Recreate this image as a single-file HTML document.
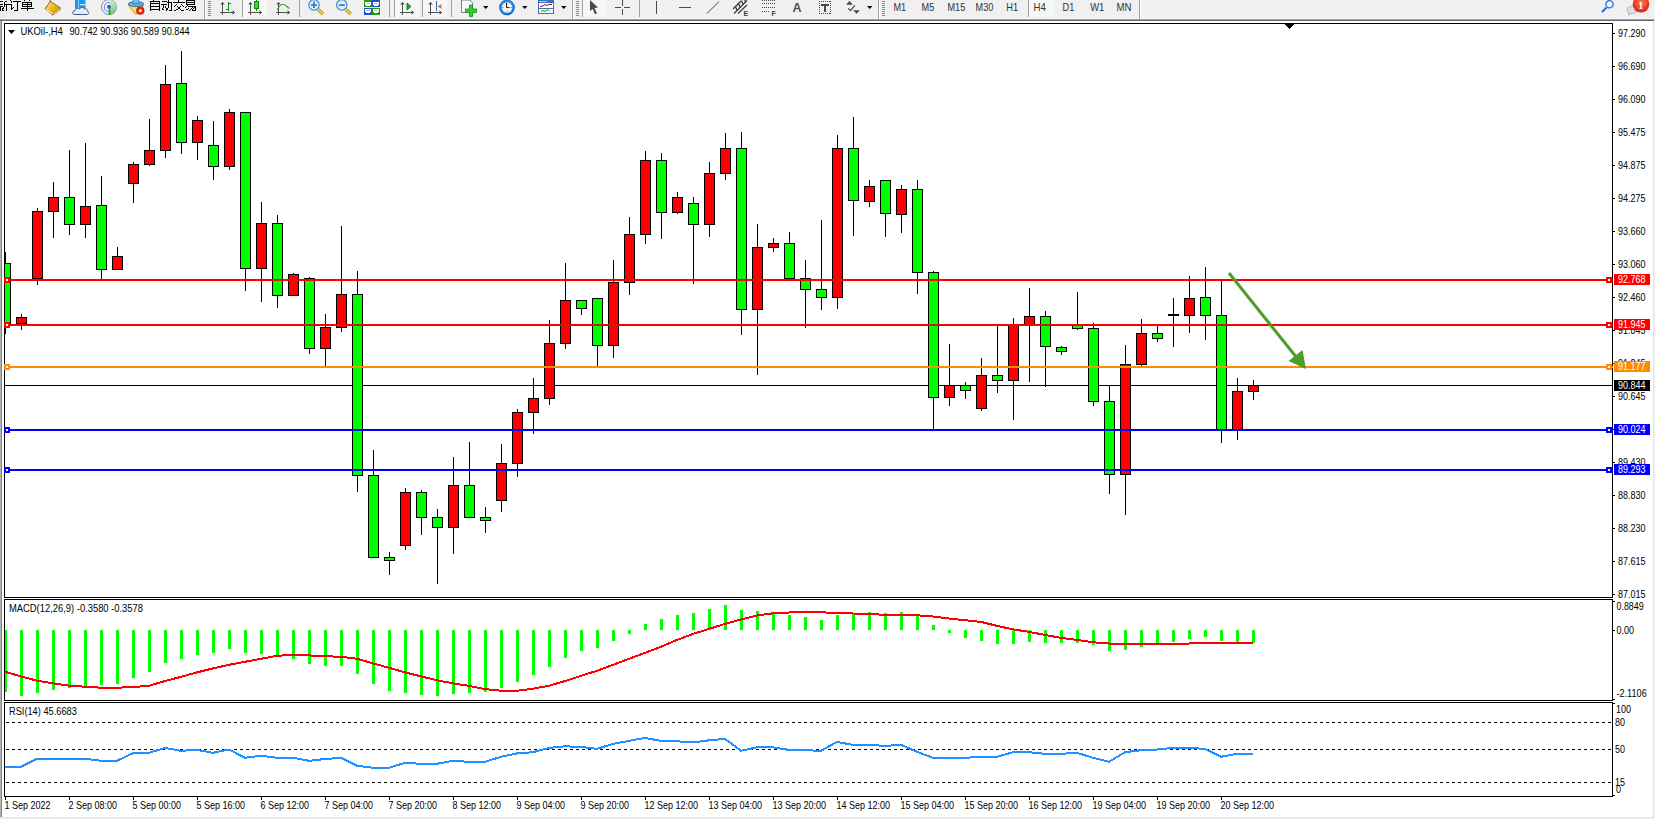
<!DOCTYPE html><html><head><meta charset="utf-8"><style>html,body{margin:0;padding:0;width:1655px;height:819px;overflow:hidden;background:#f0f0f0}</style></head><body><svg width="1655" height="819" viewBox="0 0 1655 819" style="display:block;font-family:'Liberation Sans', sans-serif"><rect x="0" y="0" width="1655" height="819" fill="#f0f0f0"/><rect x="0" y="21" width="1653" height="796" fill="#ffffff"/><rect x="0" y="21" width="1" height="796" fill="#b4b4b4"/><rect x="1" y="21" width="1" height="796" fill="#7f7f7f"/><rect x="1653" y="21" width="1" height="797" fill="#e3e3e3"/><rect x="0" y="817" width="1654" height="1" fill="#e3e3e3"/><rect x="0" y="18" width="1654" height="1" fill="#f7f7f7"/><rect x="0" y="19" width="1654" height="1" fill="#a0a0a0"/><rect x="0" y="20" width="1654" height="1" fill="#696969"/><defs><pattern id="chk" width="2" height="2" patternUnits="userSpaceOnUse"><rect width="2" height="2" fill="#f4f4f4"/><rect width="1" height="1" fill="#fafafa"/><rect x="1" y="1" width="1" height="1" fill="#fafafa"/></pattern><linearGradient id="gold" x1="0" y1="0" x2="1" y2="1"><stop offset="0" stop-color="#fff0a0"/><stop offset="0.5" stop-color="#e8b818"/><stop offset="1" stop-color="#c88a10"/></linearGradient><radialGradient id="rg" cx="0.5" cy="0.4" r="0.6"><stop offset="0" stop-color="#ff8060"/><stop offset="1" stop-color="#d81e08"/></radialGradient></defs><g shape-rendering="crispEdges"><rect x="243" y="0" width="24" height="17" fill="url(#chk)"/><rect x="395" y="0" width="24" height="17" fill="url(#chk)"/><rect x="423" y="0" width="24" height="17" fill="url(#chk)"/><rect x="583" y="0" width="24" height="17" fill="url(#chk)"/><rect x="1029" y="0" width="25" height="17" fill="url(#chk)"/><rect x="204" y="0" width="1" height="19" fill="#a0a0a0"/><rect x="205" y="0" width="1" height="19" fill="#ffffff"/><rect x="242" y="0" width="1" height="17" fill="#a0a0a0"/><rect x="299" y="0" width="1" height="17" fill="#a0a0a0"/><rect x="389" y="0" width="1" height="17" fill="#a0a0a0"/><rect x="394" y="0" width="1" height="17" fill="#a0a0a0"/><rect x="422" y="0" width="1" height="17" fill="#a0a0a0"/><rect x="451" y="0" width="1" height="17" fill="#a0a0a0"/><rect x="572" y="0" width="1" height="19" fill="#a0a0a0"/><rect x="573" y="0" width="1" height="19" fill="#ffffff"/><rect x="582" y="0" width="1" height="17" fill="#a0a0a0"/><rect x="639" y="0" width="1" height="17" fill="#a0a0a0"/><rect x="878" y="0" width="1" height="19" fill="#a0a0a0"/><rect x="879" y="0" width="1" height="19" fill="#ffffff"/><rect x="1028" y="0" width="1" height="17" fill="#a0a0a0"/><rect x="1139" y="0" width="1" height="19" fill="#a0a0a0"/><rect x="1140" y="0" width="1" height="19" fill="#ffffff"/><rect x="208" y="1" width="3" height="1" fill="#8a8a8a"/><rect x="208" y="3" width="3" height="1" fill="#8a8a8a"/><rect x="208" y="5" width="3" height="1" fill="#8a8a8a"/><rect x="208" y="7" width="3" height="1" fill="#8a8a8a"/><rect x="208" y="9" width="3" height="1" fill="#8a8a8a"/><rect x="208" y="11" width="3" height="1" fill="#8a8a8a"/><rect x="208" y="13" width="3" height="1" fill="#8a8a8a"/><rect x="208" y="15" width="3" height="1" fill="#8a8a8a"/><rect x="576" y="1" width="3" height="1" fill="#8a8a8a"/><rect x="576" y="3" width="3" height="1" fill="#8a8a8a"/><rect x="576" y="5" width="3" height="1" fill="#8a8a8a"/><rect x="576" y="7" width="3" height="1" fill="#8a8a8a"/><rect x="576" y="9" width="3" height="1" fill="#8a8a8a"/><rect x="576" y="11" width="3" height="1" fill="#8a8a8a"/><rect x="576" y="13" width="3" height="1" fill="#8a8a8a"/><rect x="576" y="15" width="3" height="1" fill="#8a8a8a"/><rect x="882" y="1" width="3" height="1" fill="#8a8a8a"/><rect x="882" y="3" width="3" height="1" fill="#8a8a8a"/><rect x="882" y="5" width="3" height="1" fill="#8a8a8a"/><rect x="882" y="7" width="3" height="1" fill="#8a8a8a"/><rect x="882" y="9" width="3" height="1" fill="#8a8a8a"/><rect x="882" y="11" width="3" height="1" fill="#8a8a8a"/><rect x="882" y="13" width="3" height="1" fill="#8a8a8a"/><rect x="882" y="15" width="3" height="1" fill="#8a8a8a"/><rect x="222" y="2" width="1" height="13" fill="#505050"/><rect x="220" y="12" width="15" height="1" fill="#505050"/><rect x="221" y="3" width="3" height="1" fill="#505050"/><rect x="220" y="4" width="5" height="1" fill="#505050" opacity="0.35"/><rect x="233" y="11" width="1" height="3" fill="#505050"/><rect x="232" y="10" width="1" height="5" fill="#505050" opacity="0.35"/><rect x="250" y="2" width="1" height="13" fill="#505050"/><rect x="248" y="12" width="14" height="1" fill="#505050"/><rect x="249" y="3" width="3" height="1" fill="#505050"/><rect x="248" y="4" width="5" height="1" fill="#505050" opacity="0.35"/><rect x="260" y="11" width="1" height="3" fill="#505050"/><rect x="259" y="10" width="1" height="5" fill="#505050" opacity="0.35"/><rect x="278" y="2" width="1" height="13" fill="#505050"/><rect x="276" y="12" width="14" height="1" fill="#505050"/><rect x="277" y="3" width="3" height="1" fill="#505050"/><rect x="276" y="4" width="5" height="1" fill="#505050" opacity="0.35"/><rect x="288" y="11" width="1" height="3" fill="#505050"/><rect x="287" y="10" width="1" height="5" fill="#505050" opacity="0.35"/><rect x="402" y="2" width="1" height="13" fill="#505050"/><rect x="400" y="12" width="14" height="1" fill="#505050"/><rect x="401" y="3" width="3" height="1" fill="#505050"/><rect x="400" y="4" width="5" height="1" fill="#505050" opacity="0.35"/><rect x="412" y="11" width="1" height="3" fill="#505050"/><rect x="411" y="10" width="1" height="5" fill="#505050" opacity="0.35"/><rect x="430" y="2" width="1" height="13" fill="#505050"/><rect x="428" y="12" width="14" height="1" fill="#505050"/><rect x="429" y="3" width="3" height="1" fill="#505050"/><rect x="428" y="4" width="5" height="1" fill="#505050" opacity="0.35"/><rect x="440" y="11" width="1" height="3" fill="#505050"/><rect x="439" y="10" width="1" height="5" fill="#505050" opacity="0.35"/><rect x="228" y="2" width="1" height="9" fill="#109010"/><rect x="229" y="3" width="2" height="1" fill="#109010"/><rect x="226" y="9" width="2" height="1" fill="#109010"/><rect x="256" y="0" width="1" height="11" fill="#108010"/><rect x="254" y="1" width="5" height="8" fill="#108010"/><rect x="255" y="2" width="3" height="6" fill="#30e030"/><polygon points="407,3 411,6.5 407,10" fill="#20b020" stroke="#108010" stroke-width="1" shape-rendering="auto"/><rect x="436" y="1" width="1" height="10" fill="#1f6fb0"/><polygon points="437.5,6.5 442,4 441,6.5 442,9" fill="#e06010" shape-rendering="auto"/></g><path d="M277,9.8 C279,6.5 281,4.2 283,4.3 C285,4.5 287,7 289.5,8.5" fill="none" stroke="#30a030" stroke-width="1.1"/><line x1="50.5" y1="0" x2="49.5" y2="3" stroke="#9a6010" stroke-width="1"/><polygon points="50.5,1.5 60.5,8 52.5,15 45,8.7" fill="url(#gold)" stroke="#9a6010" stroke-width="1"/><polygon points="53,13.3 60,8.3 60.8,9.6 53.2,15" fill="#f4e8b0" stroke="#9a6010" stroke-width="0.6"/><line x1="46.5" y1="9.5" x2="52.5" y2="13.8" stroke="#fff4c0" stroke-width="1.3"/><rect x="75" y="0" width="10.5" height="8.5" fill="#1898f0"/><rect x="78" y="0" width="1" height="8" fill="#90d0ff"/><rect x="80" y="4" width="5" height="1.2" fill="#e0f0ff"/><path d="M74.5,14.5 C72,14.5 72,10.8 75,10.8 C75,8.6 78,7.6 79.5,9 C80.5,7 84,7 84.5,9 C86.5,8.3 88.5,10 87.5,11.5 C89.5,12 89,14.5 87,14.5 Z" fill="#e8ecf4" stroke="#3c5a90" stroke-width="1"/><defs><linearGradient id="rgg" x1="0" y1="0" x2="0" y2="1"><stop offset="0" stop-color="#e8f4e8"/><stop offset="1" stop-color="#60b860"/></linearGradient></defs><path d="M109,7 L109,-1 A8,8 0 0 1 109,15 Z" fill="url(#rgg)" opacity="0.85"/><path d="M109,-0.5 A7.5,7.5 0 0 0 109,14.5" fill="none" stroke="#4a70d0" stroke-width="1" opacity="0.75"/><path d="M109,2.3 A4.7,4.7 0 0 0 109,11.7" fill="none" stroke="#4a70d0" stroke-width="1" opacity="0.85"/><path d="M109,-0.5 A7.5,7.5 0 0 1 109,14.5" fill="none" stroke="#5a9a70" stroke-width="1" opacity="0.6"/><path d="M109,2.3 A4.7,4.7 0 0 1 109,11.7" fill="none" stroke="#80b890" stroke-width="1" opacity="0.6"/><circle cx="109" cy="6.8" r="1.9" fill="#2050c0"/><line x1="109.5" y1="7" x2="109.5" y2="15" stroke="#20a020" stroke-width="1.6"/><polygon points="128.5,5.5 143.5,5.5 136,14.5" fill="#f8e060" stroke="#c8a020" stroke-width="1"/><ellipse cx="136" cy="4" rx="7.6" ry="2.4" fill="#68b4e6" stroke="#2070a8" stroke-width="1"/><path d="M132.5,3.5 Q133.5,-2 136,-2 Q138.5,-2 139.5,3.5 Z" fill="#78c0f0" stroke="#2878b0" stroke-width="0.8"/><circle cx="140.3" cy="10.7" r="4.1" fill="#c81808"/><circle cx="140.3" cy="10.7" r="3.2" fill="#e82a10"/><rect x="139.1" y="9.5" width="2.5" height="2.5" fill="#fff"/><line x1="318" y1="9.5" x2="323" y2="14" stroke="#a07810" stroke-width="3.2"/><line x1="318" y1="9.5" x2="323" y2="14" stroke="#f0d848" stroke-width="1.8"/><circle cx="314" cy="5" r="5.2" fill="#daf2fc" stroke="#3a78c8" stroke-width="1.1"/><rect x="311" y="4.2" width="6" height="1.8" fill="#3a88b0"/><rect x="313.1" y="1.5" width="1.8" height="6.5" fill="#3a88b0"/><line x1="345.8" y1="9.5" x2="350.8" y2="14" stroke="#a07810" stroke-width="3.2"/><line x1="345.8" y1="9.5" x2="350.8" y2="14" stroke="#f0d848" stroke-width="1.8"/><circle cx="341.8" cy="5" r="5.2" fill="#daf2fc" stroke="#3a78c8" stroke-width="1.1"/><rect x="338.8" y="4.2" width="6" height="1.8" fill="#3a88b0"/><g shape-rendering="crispEdges"><rect x="364" y="0" width="8" height="7.5" fill="#2a9a18"/><rect x="365" y="2" width="6" height="4" fill="#fff"/><rect x="366" y="3" width="4" height="1" fill="#a8e0a0"/><rect x="365" y="5" width="1" height="1" fill="#2a9a18"/><rect x="370" y="5" width="1" height="1" fill="#2a9a18"/><rect x="372" y="0" width="8" height="7.5" fill="#2050d0"/><rect x="373" y="2" width="6" height="4" fill="#fff"/><rect x="374" y="3" width="4" height="1" fill="#a0b8f0"/><rect x="373" y="5" width="1" height="1" fill="#2050d0"/><rect x="378" y="5" width="1" height="1" fill="#2050d0"/><rect x="364" y="7" width="8" height="7.5" fill="#2050d0"/><rect x="365" y="9" width="6" height="4" fill="#fff"/><rect x="366" y="10" width="4" height="1" fill="#a0b8f0"/><rect x="365" y="12" width="1" height="1" fill="#2050d0"/><rect x="370" y="12" width="1" height="1" fill="#2050d0"/><rect x="372" y="7" width="8" height="7.5" fill="#2a9a18"/><rect x="373" y="9" width="6" height="4" fill="#fff"/><rect x="374" y="10" width="4" height="1" fill="#a8e0a0"/><rect x="373" y="12" width="1" height="1" fill="#2a9a18"/><rect x="378" y="12" width="1" height="1" fill="#2a9a18"/><rect x="371.5" y="0" width="0.5" height="15" fill="#e0e0e0"/><rect x="364" y="7" width="16" height="0.5" fill="#e0e0e0"/></g><path d="M461.5,0 L470,0 L472.5,2.5 L472.5,12.5 L461.5,12.5 Z" fill="#fafafa" stroke="#808080" stroke-width="1"/><path d="M469.5,5 h3 v4 h4 v3.5 h-4 v4 h-3 v-4 h-4 v-3.5 h4 Z" fill="#30d030" stroke="#109010" stroke-width="0.8"/><polygon points="483,6 488.5,6 485.75,9" fill="#000"/><polygon points="522,6 527.5,6 524.75,9" fill="#000"/><polygon points="561,6 566.5,6 563.75,9" fill="#000"/><polygon points="867,6 872.5,6 869.75,9" fill="#000"/><circle cx="507" cy="7.5" r="7.8" fill="#0a58b8"/><circle cx="507" cy="7" r="7" fill="#2a88e8"/><circle cx="507" cy="7.5" r="5.2" fill="#f4f4f4"/><g fill="#707070"><rect x="506.5" y="2.6" width="1" height="1"/><rect x="506.5" y="11.4" width="1" height="1"/><rect x="502.3" y="7" width="1" height="1"/><rect x="510.8" y="7" width="1" height="1"/></g><path d="M506.5,3 L506.5,7.5 L509.5,7.5" fill="none" stroke="#202020" stroke-width="1"/><g shape-rendering="crispEdges"><rect x="538" y="0" width="16" height="14" fill="#3a70c0"/><rect x="539" y="3" width="14" height="5" fill="#fff"/><rect x="539" y="9" width="14" height="4" fill="#fff"/><rect x="539" y="1" width="8" height="1" fill="#a8c8f0"/></g><polyline points="540,6.5 543,6 545,4.5 547,5.5 549,4.5 552,4.5" fill="none" stroke="#a01818" stroke-width="1"/><polyline points="541,11.5 543,10.5 545,11.5 548,9.5 550,11.5" fill="none" stroke="#10a010" stroke-width="1"/><polygon points="590,0 598,7.5 594.5,8 597,13.5 595,14.3 592.7,9 590,11" fill="#4a4a4a"/><g shape-rendering="crispEdges" fill="#4a4a4a"><rect x="622" y="0" width="1" height="6"/><rect x="622" y="9" width="1" height="6"/><rect x="615" y="7" width="6" height="1"/><rect x="624" y="7" width="6" height="1"/><rect x="656" y="1" width="1" height="13"/><rect x="679" y="7" width="12" height="1"/></g><line x1="707" y1="13.5" x2="719" y2="1.5" stroke="#4a4a4a" stroke-width="1"/><g stroke="#3a3a3a" stroke-width="1.2" fill="none"><line x1="733" y1="9" x2="741" y2="1"/><line x1="734" y1="13.5" x2="747" y2="0.5"/><line x1="738" y1="13.5" x2="747" y2="5"/><path d="M735.5,6.5 l1.5,4 M738.5,3.5 l1.5,4 M741.5,0.5 l1.5,4 M744.5,-1 l1,3"/></g><text x="743.5" y="15.7" font-size="7" font-weight="bold" fill="#404040">E</text><g shape-rendering="crispEdges" fill="#4a4a4a"><rect x="762" y="0" width="1" height="1"/><rect x="764" y="0" width="1" height="1"/><rect x="766" y="0" width="1" height="1"/><rect x="768" y="0" width="1" height="1"/><rect x="770" y="0" width="1" height="1"/><rect x="772" y="0" width="1" height="1"/><rect x="774" y="0" width="1" height="1"/><rect x="762" y="3" width="1" height="1"/><rect x="764" y="3" width="1" height="1"/><rect x="766" y="3" width="1" height="1"/><rect x="768" y="3" width="1" height="1"/><rect x="770" y="3" width="1" height="1"/><rect x="772" y="3" width="1" height="1"/><rect x="774" y="3" width="1" height="1"/><rect x="762" y="7" width="1" height="1"/><rect x="764" y="7" width="1" height="1"/><rect x="766" y="7" width="1" height="1"/><rect x="768" y="7" width="1" height="1"/><rect x="770" y="7" width="1" height="1"/><rect x="772" y="7" width="1" height="1"/><rect x="774" y="7" width="1" height="1"/><rect x="762" y="11" width="1" height="1"/><rect x="764" y="11" width="1" height="1"/><rect x="766" y="11" width="1" height="1"/><rect x="768" y="11" width="1" height="1"/></g><text x="771.5" y="15.7" font-size="7" font-weight="bold" fill="#404040">F</text><text x="792.6" y="12" font-size="12.5" font-weight="bold" fill="#505050">A</text><g shape-rendering="crispEdges" fill="#4a4a4a"><rect x="819" y="1" width="1" height="1"/><rect x="819" y="13" width="1" height="1"/><rect x="821" y="1" width="1" height="1"/><rect x="821" y="13" width="1" height="1"/><rect x="823" y="1" width="1" height="1"/><rect x="823" y="13" width="1" height="1"/><rect x="825" y="1" width="1" height="1"/><rect x="825" y="13" width="1" height="1"/><rect x="827" y="1" width="1" height="1"/><rect x="827" y="13" width="1" height="1"/><rect x="829" y="1" width="1" height="1"/><rect x="829" y="13" width="1" height="1"/><rect x="819" y="1" width="1" height="1"/><rect x="830" y="1" width="1" height="1"/><rect x="819" y="3" width="1" height="1"/><rect x="830" y="3" width="1" height="1"/><rect x="819" y="5" width="1" height="1"/><rect x="830" y="5" width="1" height="1"/><rect x="819" y="7" width="1" height="1"/><rect x="830" y="7" width="1" height="1"/><rect x="819" y="9" width="1" height="1"/><rect x="830" y="9" width="1" height="1"/><rect x="819" y="11" width="1" height="1"/><rect x="830" y="11" width="1" height="1"/><rect x="819" y="13" width="1" height="1"/><rect x="830" y="13" width="1" height="1"/><rect x="821" y="4" width="8" height="1.6"/><rect x="824.2" y="4" width="1.6" height="8"/></g><polygon points="849.4,1 853,4.7 846,4.7" fill="#4a4a4a"/><polygon points="853.2,10.3 860,10.3 856.5,13.8" fill="#4a4a4a"/><polyline points="848.3,8.3 850.5,10.5 854.9,5.4" fill="none" stroke="#4a4a4a" stroke-width="1.2"/><circle cx="1609.5" cy="4.3" r="3.6" fill="#f4f8ff" stroke="#2a68d8" stroke-width="1.3"/><line x1="1602" y1="12" x2="1606.5" y2="7.5" stroke="#2a68d8" stroke-width="2"/><path d="M1627,10 C1627,5 1637,5 1637,10 C1637,13 1632,14 1630,13.5 L1629,15.5 L1628.8,13 C1627.5,12.5 1627,11.5 1627,10 Z" fill="#dcdde6" stroke="#a8a8a8" stroke-width="0.8"/><circle cx="1641" cy="4.3" r="8.3" fill="url(#rg)"/><text x="1638.2" y="8.8" font-size="10" font-weight="bold" font-family="Liberation Serif, serif" fill="#fff">1</text><g shape-rendering="crispEdges" fill="#000"><rect x="0" y="1" width="3" height="1"/><rect x="0" y="4" width="3" height="1"/><rect x="0" y="6" width="3" height="1"/><rect x="0" y="6" width="1" height="5"/><rect x="2" y="8" width="1" height="1"/><rect x="2" y="9" width="1" height="1"/><rect x="3" y="10" width="1" height="1"/><rect x="6" y="1" width="1" height="1"/><rect x="5" y="1" width="1" height="1"/><rect x="4" y="2" width="1" height="1"/><rect x="4" y="2" width="1" height="2"/><rect x="4" y="4" width="6" height="1"/><rect x="6" y="4" width="1" height="7"/><rect x="4" y="5" width="1" height="1"/><rect x="4" y="6" width="1" height="1"/><rect x="3" y="7" width="1" height="1"/><rect x="3" y="8" width="1" height="1"/><rect x="2" y="10" width="1" height="1"/><rect x="10" y="0" width="1" height="1"/><rect x="11" y="1" width="1" height="1"/><rect x="11" y="2" width="1" height="1"/><rect x="10" y="4" width="2" height="1"/><rect x="11" y="4" width="1" height="6"/><rect x="12" y="8" width="1" height="1"/><rect x="13" y="7" width="1" height="1"/><rect x="13" y="1" width="8" height="1"/><rect x="17" y="1" width="1" height="10"/><rect x="14" y="10" width="4" height="1"/><rect x="24" y="0" width="1" height="1"/><rect x="29" y="0" width="1" height="1"/><rect x="22" y="2" width="10" height="1"/><rect x="22" y="4" width="10" height="1"/><rect x="22" y="6" width="10" height="1"/><rect x="22" y="2" width="1" height="5"/><rect x="31" y="2" width="1" height="5"/><rect x="27" y="2" width="1" height="9"/><rect x="21" y="8" width="13" height="1"/><rect x="153" y="0" width="1" height="1"/><rect x="150" y="1" width="10" height="1"/><rect x="150" y="1" width="1" height="10"/><rect x="159" y="1" width="1" height="10"/><rect x="150" y="3" width="10" height="1"/><rect x="150" y="6" width="10" height="1"/><rect x="150" y="9" width="10" height="1"/><rect x="162" y="1" width="5" height="1"/><rect x="161" y="4" width="6" height="1"/><rect x="163" y="5" width="1" height="1"/><rect x="163" y="6" width="1" height="1"/><rect x="163" y="7" width="1" height="1"/><rect x="162" y="8" width="1" height="1"/><rect x="162" y="9" width="2" height="1"/><rect x="165" y="6" width="1" height="1"/><rect x="165" y="7" width="1" height="1"/><rect x="166" y="8" width="1" height="1"/><rect x="166" y="9" width="1" height="1"/><rect x="166" y="10" width="1" height="1"/><rect x="167" y="2" width="5" height="1"/><rect x="168" y="0" width="1" height="8"/><rect x="167" y="8" width="1" height="1"/><rect x="167" y="9" width="1" height="1"/><rect x="166" y="10" width="1" height="1"/><rect x="171" y="2" width="1" height="8"/><rect x="169" y="10" width="3" height="1"/><rect x="178" y="0" width="1" height="2"/><rect x="173" y="2" width="12" height="1"/><rect x="176" y="4" width="1" height="1"/><rect x="175" y="5" width="1" height="1"/><rect x="174" y="6" width="1" height="1"/><rect x="181" y="4" width="1" height="1"/><rect x="182" y="5" width="1" height="1"/><rect x="183" y="6" width="1" height="1"/><rect x="177" y="6" width="1" height="1"/><rect x="178" y="7" width="1" height="1"/><rect x="179" y="8" width="1" height="1"/><rect x="180" y="9" width="1" height="1"/><rect x="181" y="10" width="1" height="1"/><rect x="182" y="10" width="1" height="1"/><rect x="183" y="10" width="1" height="1"/><rect x="180" y="6" width="1" height="1"/><rect x="179" y="7" width="1" height="1"/><rect x="178" y="8" width="1" height="1"/><rect x="177" y="9" width="1" height="1"/><rect x="176" y="9" width="1" height="1"/><rect x="175" y="10" width="1" height="1"/><rect x="174" y="10" width="1" height="1"/><rect x="186" y="0" width="9" height="1"/><rect x="186" y="0" width="1" height="5"/><rect x="194" y="0" width="1" height="5"/><rect x="187" y="2" width="7" height="1"/><rect x="186" y="4" width="9" height="1"/><rect x="187" y="5" width="1" height="1"/><rect x="186" y="6" width="1" height="1"/><rect x="185" y="7" width="1" height="1"/><rect x="188" y="6" width="8" height="1"/><rect x="195" y="6" width="1" height="5"/><rect x="188" y="8" width="1" height="1"/><rect x="187" y="9" width="1" height="1"/><rect x="186" y="9" width="1" height="1"/><rect x="192" y="7" width="1" height="1"/><rect x="191" y="8" width="1" height="1"/><rect x="190" y="9" width="1" height="1"/><rect x="189" y="10" width="1" height="1"/><rect x="194" y="7" width="1" height="1"/><rect x="193" y="8" width="1" height="1"/><rect x="192" y="9" width="1" height="1"/><rect x="192" y="10" width="3" height="1"/></g><g shape-rendering="crispEdges"><rect x="4" y="23" width="1609" height="1" fill="#000"/><rect x="4" y="597" width="1609" height="1" fill="#000"/><rect x="4" y="23" width="1" height="575" fill="#000"/><rect x="1612" y="23" width="1" height="575" fill="#000"/><rect x="4" y="599" width="1609" height="1" fill="#000"/><rect x="4" y="700" width="1609" height="1" fill="#000"/><rect x="4" y="599" width="1" height="102" fill="#000"/><rect x="1612" y="599" width="1" height="102" fill="#000"/><rect x="4" y="702" width="1609" height="1" fill="#000"/><rect x="4" y="796" width="1609" height="1" fill="#000"/><rect x="4" y="702" width="1" height="95" fill="#000"/><rect x="1612" y="702" width="1" height="95" fill="#000"/><rect x="1613" y="33" width="2" height="1" fill="#000"/><text x="1618" y="37" font-size="10.2" fill="#000" textLength="27.5" lengthAdjust="spacingAndGlyphs">97.290</text><rect x="1613" y="66" width="2" height="1" fill="#000"/><text x="1618" y="70" font-size="10.2" fill="#000" textLength="27.5" lengthAdjust="spacingAndGlyphs">96.690</text><rect x="1613" y="99" width="2" height="1" fill="#000"/><text x="1618" y="103" font-size="10.2" fill="#000" textLength="27.5" lengthAdjust="spacingAndGlyphs">96.090</text><rect x="1613" y="132" width="2" height="1" fill="#000"/><text x="1618" y="136" font-size="10.2" fill="#000" textLength="27.5" lengthAdjust="spacingAndGlyphs">95.475</text><rect x="1613" y="165" width="2" height="1" fill="#000"/><text x="1618" y="169" font-size="10.2" fill="#000" textLength="27.5" lengthAdjust="spacingAndGlyphs">94.875</text><rect x="1613" y="198" width="2" height="1" fill="#000"/><text x="1618" y="202" font-size="10.2" fill="#000" textLength="27.5" lengthAdjust="spacingAndGlyphs">94.275</text><rect x="1613" y="231" width="2" height="1" fill="#000"/><text x="1618" y="235" font-size="10.2" fill="#000" textLength="27.5" lengthAdjust="spacingAndGlyphs">93.660</text><rect x="1613" y="264" width="2" height="1" fill="#000"/><text x="1618" y="268" font-size="10.2" fill="#000" textLength="27.5" lengthAdjust="spacingAndGlyphs">93.060</text><rect x="1613" y="297" width="2" height="1" fill="#000"/><text x="1618" y="301" font-size="10.2" fill="#000" textLength="27.5" lengthAdjust="spacingAndGlyphs">92.460</text><rect x="1613" y="330" width="2" height="1" fill="#000"/><text x="1618" y="334" font-size="10.2" fill="#000" textLength="27.5" lengthAdjust="spacingAndGlyphs">91.845</text><rect x="1613" y="363" width="2" height="1" fill="#000"/><text x="1618" y="367" font-size="10.2" fill="#000" textLength="27.5" lengthAdjust="spacingAndGlyphs">91.245</text><rect x="1613" y="396" width="2" height="1" fill="#000"/><text x="1618" y="400" font-size="10.2" fill="#000" textLength="27.5" lengthAdjust="spacingAndGlyphs">90.645</text><rect x="1613" y="429" width="2" height="1" fill="#000"/><text x="1618" y="433" font-size="10.2" fill="#000" textLength="27.5" lengthAdjust="spacingAndGlyphs">90.030</text><rect x="1613" y="462" width="2" height="1" fill="#000"/><text x="1618" y="466" font-size="10.2" fill="#000" textLength="27.5" lengthAdjust="spacingAndGlyphs">89.430</text><rect x="1613" y="495" width="2" height="1" fill="#000"/><text x="1618" y="499" font-size="10.2" fill="#000" textLength="27.5" lengthAdjust="spacingAndGlyphs">88.830</text><rect x="1613" y="528" width="2" height="1" fill="#000"/><text x="1618" y="532" font-size="10.2" fill="#000" textLength="27.5" lengthAdjust="spacingAndGlyphs">88.230</text><rect x="1613" y="561" width="2" height="1" fill="#000"/><text x="1618" y="565" font-size="10.2" fill="#000" textLength="27.5" lengthAdjust="spacingAndGlyphs">87.615</text><rect x="1613" y="594" width="2" height="1" fill="#000"/><text x="1618" y="598" font-size="10.2" fill="#000" textLength="27.5" lengthAdjust="spacingAndGlyphs">87.015</text></g><clipPath id="cm"><rect x="5" y="24" width="1607" height="573"/></clipPath><clipPath id="cd"><rect x="5" y="600" width="1607" height="100"/></clipPath><clipPath id="cr"><rect x="5" y="703" width="1607" height="93"/></clipPath><g clip-path="url(#cm)" shape-rendering="crispEdges"><rect x="5" y="385" width="1607" height="1" fill="#000"/><rect x="5" y="252" width="1" height="82" fill="#000"/><rect x="0" y="263" width="11" height="62" fill="#000"/><rect x="1" y="264" width="9" height="60" fill="#00ff00"/><rect x="21" y="314" width="1" height="16" fill="#000"/><rect x="16" y="317" width="11" height="7" fill="#000"/><rect x="17" y="318" width="9" height="5" fill="#ff0000"/><rect x="37" y="208" width="1" height="77" fill="#000"/><rect x="32" y="211" width="11" height="68" fill="#000"/><rect x="33" y="212" width="9" height="66" fill="#ff0000"/><rect x="53" y="182" width="1" height="56" fill="#000"/><rect x="48" y="197" width="11" height="15" fill="#000"/><rect x="49" y="198" width="9" height="13" fill="#ff0000"/><rect x="69" y="150" width="1" height="85" fill="#000"/><rect x="64" y="197" width="11" height="28" fill="#000"/><rect x="65" y="198" width="9" height="26" fill="#00ff00"/><rect x="85" y="143" width="1" height="95" fill="#000"/><rect x="80" y="206" width="11" height="19" fill="#000"/><rect x="81" y="207" width="9" height="17" fill="#ff0000"/><rect x="101" y="176" width="1" height="103" fill="#000"/><rect x="96" y="205" width="11" height="65" fill="#000"/><rect x="97" y="206" width="9" height="63" fill="#00ff00"/><rect x="117" y="247" width="1" height="23" fill="#000"/><rect x="112" y="256" width="11" height="14" fill="#000"/><rect x="113" y="257" width="9" height="12" fill="#ff0000"/><rect x="133" y="162" width="1" height="41" fill="#000"/><rect x="128" y="164" width="11" height="20" fill="#000"/><rect x="129" y="165" width="9" height="18" fill="#ff0000"/><rect x="149" y="119" width="1" height="47" fill="#000"/><rect x="144" y="150" width="11" height="15" fill="#000"/><rect x="145" y="151" width="9" height="13" fill="#ff0000"/><rect x="165" y="65" width="1" height="93" fill="#000"/><rect x="160" y="84" width="11" height="67" fill="#000"/><rect x="161" y="85" width="9" height="65" fill="#ff0000"/><rect x="181" y="51" width="1" height="103" fill="#000"/><rect x="176" y="83" width="11" height="60" fill="#000"/><rect x="177" y="84" width="9" height="58" fill="#00ff00"/><rect x="197" y="116" width="1" height="44" fill="#000"/><rect x="192" y="120" width="11" height="23" fill="#000"/><rect x="193" y="121" width="9" height="21" fill="#ff0000"/><rect x="213" y="121" width="1" height="59" fill="#000"/><rect x="208" y="145" width="11" height="22" fill="#000"/><rect x="209" y="146" width="9" height="20" fill="#00ff00"/><rect x="229" y="109" width="1" height="61" fill="#000"/><rect x="224" y="112" width="11" height="55" fill="#000"/><rect x="225" y="113" width="9" height="53" fill="#ff0000"/><rect x="245" y="112" width="1" height="179" fill="#000"/><rect x="240" y="112" width="11" height="157" fill="#000"/><rect x="241" y="113" width="9" height="155" fill="#00ff00"/><rect x="261" y="202" width="1" height="100" fill="#000"/><rect x="256" y="223" width="11" height="46" fill="#000"/><rect x="257" y="224" width="9" height="44" fill="#ff0000"/><rect x="277" y="215" width="1" height="93" fill="#000"/><rect x="272" y="223" width="11" height="73" fill="#000"/><rect x="273" y="224" width="9" height="71" fill="#00ff00"/><rect x="293" y="273" width="1" height="23" fill="#000"/><rect x="288" y="274" width="11" height="22" fill="#000"/><rect x="289" y="275" width="9" height="20" fill="#ff0000"/><rect x="309" y="277" width="1" height="77" fill="#000"/><rect x="304" y="278" width="11" height="71" fill="#000"/><rect x="305" y="279" width="9" height="69" fill="#00ff00"/><rect x="325" y="314" width="1" height="52" fill="#000"/><rect x="320" y="327" width="11" height="22" fill="#000"/><rect x="321" y="328" width="9" height="20" fill="#ff0000"/><rect x="341" y="226" width="1" height="106" fill="#000"/><rect x="336" y="294" width="11" height="34" fill="#000"/><rect x="337" y="295" width="9" height="32" fill="#ff0000"/><rect x="357" y="271" width="1" height="221" fill="#000"/><rect x="352" y="294" width="11" height="182" fill="#000"/><rect x="353" y="295" width="9" height="180" fill="#00ff00"/><rect x="373" y="450" width="1" height="108" fill="#000"/><rect x="368" y="475" width="11" height="83" fill="#000"/><rect x="369" y="476" width="9" height="81" fill="#00ff00"/><rect x="389" y="552" width="1" height="23" fill="#000"/><rect x="384" y="557" width="11" height="4" fill="#000"/><rect x="385" y="558" width="9" height="2" fill="#00ff00"/><rect x="405" y="488" width="1" height="62" fill="#000"/><rect x="400" y="492" width="11" height="54" fill="#000"/><rect x="401" y="493" width="9" height="52" fill="#ff0000"/><rect x="421" y="490" width="1" height="45" fill="#000"/><rect x="416" y="492" width="11" height="26" fill="#000"/><rect x="417" y="493" width="9" height="24" fill="#00ff00"/><rect x="437" y="509" width="1" height="75" fill="#000"/><rect x="432" y="517" width="11" height="11" fill="#000"/><rect x="433" y="518" width="9" height="9" fill="#00ff00"/><rect x="453" y="457" width="1" height="97" fill="#000"/><rect x="448" y="485" width="11" height="43" fill="#000"/><rect x="449" y="486" width="9" height="41" fill="#ff0000"/><rect x="469" y="442" width="1" height="76" fill="#000"/><rect x="464" y="485" width="11" height="33" fill="#000"/><rect x="465" y="486" width="9" height="31" fill="#00ff00"/><rect x="485" y="507" width="1" height="26" fill="#000"/><rect x="480" y="517" width="11" height="4" fill="#000"/><rect x="481" y="518" width="9" height="2" fill="#00ff00"/><rect x="501" y="444" width="1" height="68" fill="#000"/><rect x="496" y="463" width="11" height="38" fill="#000"/><rect x="497" y="464" width="9" height="36" fill="#ff0000"/><rect x="517" y="409" width="1" height="68" fill="#000"/><rect x="512" y="412" width="11" height="52" fill="#000"/><rect x="513" y="413" width="9" height="50" fill="#ff0000"/><rect x="533" y="378" width="1" height="56" fill="#000"/><rect x="528" y="398" width="11" height="15" fill="#000"/><rect x="529" y="399" width="9" height="13" fill="#ff0000"/><rect x="549" y="320" width="1" height="85" fill="#000"/><rect x="544" y="343" width="11" height="56" fill="#000"/><rect x="545" y="344" width="9" height="54" fill="#ff0000"/><rect x="565" y="263" width="1" height="86" fill="#000"/><rect x="560" y="300" width="11" height="44" fill="#000"/><rect x="561" y="301" width="9" height="42" fill="#ff0000"/><rect x="581" y="300" width="1" height="15" fill="#000"/><rect x="576" y="300" width="11" height="9" fill="#000"/><rect x="577" y="301" width="9" height="7" fill="#00ff00"/><rect x="597" y="298" width="1" height="68" fill="#000"/><rect x="592" y="298" width="11" height="48" fill="#000"/><rect x="593" y="299" width="9" height="46" fill="#00ff00"/><rect x="613" y="260" width="1" height="98" fill="#000"/><rect x="608" y="282" width="11" height="64" fill="#000"/><rect x="609" y="283" width="9" height="62" fill="#ff0000"/><rect x="629" y="217" width="1" height="78" fill="#000"/><rect x="624" y="234" width="11" height="49" fill="#000"/><rect x="625" y="235" width="9" height="47" fill="#ff0000"/><rect x="645" y="151" width="1" height="93" fill="#000"/><rect x="640" y="160" width="11" height="75" fill="#000"/><rect x="641" y="161" width="9" height="73" fill="#ff0000"/><rect x="661" y="153" width="1" height="86" fill="#000"/><rect x="656" y="160" width="11" height="53" fill="#000"/><rect x="657" y="161" width="9" height="51" fill="#00ff00"/><rect x="677" y="192" width="1" height="22" fill="#000"/><rect x="672" y="197" width="11" height="16" fill="#000"/><rect x="673" y="198" width="9" height="14" fill="#ff0000"/><rect x="693" y="197" width="1" height="87" fill="#000"/><rect x="688" y="203" width="11" height="22" fill="#000"/><rect x="689" y="204" width="9" height="20" fill="#00ff00"/><rect x="709" y="162" width="1" height="75" fill="#000"/><rect x="704" y="173" width="11" height="52" fill="#000"/><rect x="705" y="174" width="9" height="50" fill="#ff0000"/><rect x="725" y="133" width="1" height="47" fill="#000"/><rect x="720" y="148" width="11" height="26" fill="#000"/><rect x="721" y="149" width="9" height="24" fill="#ff0000"/><rect x="741" y="132" width="1" height="203" fill="#000"/><rect x="736" y="148" width="11" height="162" fill="#000"/><rect x="737" y="149" width="9" height="160" fill="#00ff00"/><rect x="757" y="224" width="1" height="151" fill="#000"/><rect x="752" y="247" width="11" height="63" fill="#000"/><rect x="753" y="248" width="9" height="61" fill="#ff0000"/><rect x="773" y="238" width="1" height="14" fill="#000"/><rect x="768" y="243" width="11" height="5" fill="#000"/><rect x="769" y="244" width="9" height="3" fill="#ff0000"/><rect x="789" y="232" width="1" height="47" fill="#000"/><rect x="784" y="243" width="11" height="36" fill="#000"/><rect x="785" y="244" width="9" height="34" fill="#00ff00"/><rect x="805" y="260" width="1" height="68" fill="#000"/><rect x="800" y="278" width="11" height="12" fill="#000"/><rect x="801" y="279" width="9" height="10" fill="#00ff00"/><rect x="821" y="220" width="1" height="90" fill="#000"/><rect x="816" y="289" width="11" height="9" fill="#000"/><rect x="817" y="290" width="9" height="7" fill="#00ff00"/><rect x="837" y="135" width="1" height="174" fill="#000"/><rect x="832" y="148" width="11" height="150" fill="#000"/><rect x="833" y="149" width="9" height="148" fill="#ff0000"/><rect x="853" y="117" width="1" height="119" fill="#000"/><rect x="848" y="148" width="11" height="53" fill="#000"/><rect x="849" y="149" width="9" height="51" fill="#00ff00"/><rect x="869" y="180" width="1" height="27" fill="#000"/><rect x="864" y="186" width="11" height="16" fill="#000"/><rect x="865" y="187" width="9" height="14" fill="#ff0000"/><rect x="885" y="180" width="1" height="57" fill="#000"/><rect x="880" y="180" width="11" height="34" fill="#000"/><rect x="881" y="181" width="9" height="32" fill="#00ff00"/><rect x="901" y="185" width="1" height="48" fill="#000"/><rect x="896" y="189" width="11" height="26" fill="#000"/><rect x="897" y="190" width="9" height="24" fill="#ff0000"/><rect x="917" y="180" width="1" height="114" fill="#000"/><rect x="912" y="189" width="11" height="84" fill="#000"/><rect x="913" y="190" width="9" height="82" fill="#00ff00"/><rect x="933" y="271" width="1" height="158" fill="#000"/><rect x="928" y="272" width="11" height="126" fill="#000"/><rect x="929" y="273" width="9" height="124" fill="#00ff00"/><rect x="949" y="344" width="1" height="62" fill="#000"/><rect x="944" y="385" width="11" height="13" fill="#000"/><rect x="945" y="386" width="9" height="11" fill="#ff0000"/><rect x="965" y="382" width="1" height="17" fill="#000"/><rect x="960" y="385" width="11" height="6" fill="#000"/><rect x="961" y="386" width="9" height="4" fill="#00ff00"/><rect x="981" y="358" width="1" height="53" fill="#000"/><rect x="976" y="375" width="11" height="34" fill="#000"/><rect x="977" y="376" width="9" height="32" fill="#ff0000"/><rect x="997" y="326" width="1" height="67" fill="#000"/><rect x="992" y="375" width="11" height="6" fill="#000"/><rect x="993" y="376" width="9" height="4" fill="#00ff00"/><rect x="1013" y="318" width="1" height="102" fill="#000"/><rect x="1008" y="324" width="11" height="57" fill="#000"/><rect x="1009" y="325" width="9" height="55" fill="#ff0000"/><rect x="1029" y="288" width="1" height="94" fill="#000"/><rect x="1024" y="316" width="11" height="9" fill="#000"/><rect x="1025" y="317" width="9" height="7" fill="#ff0000"/><rect x="1045" y="311" width="1" height="76" fill="#000"/><rect x="1040" y="316" width="11" height="31" fill="#000"/><rect x="1041" y="317" width="9" height="29" fill="#00ff00"/><rect x="1061" y="346" width="1" height="9" fill="#000"/><rect x="1056" y="347" width="11" height="5" fill="#000"/><rect x="1057" y="348" width="9" height="3" fill="#00ff00"/><rect x="1077" y="292" width="1" height="38" fill="#000"/><rect x="1072" y="325" width="11" height="4" fill="#000"/><rect x="1073" y="326" width="9" height="2" fill="#00ff00"/><rect x="1093" y="323" width="1" height="83" fill="#000"/><rect x="1088" y="328" width="11" height="74" fill="#000"/><rect x="1089" y="329" width="9" height="72" fill="#00ff00"/><rect x="1109" y="386" width="1" height="108" fill="#000"/><rect x="1104" y="401" width="11" height="74" fill="#000"/><rect x="1105" y="402" width="9" height="72" fill="#00ff00"/><rect x="1125" y="345" width="1" height="170" fill="#000"/><rect x="1120" y="364" width="11" height="111" fill="#000"/><rect x="1121" y="365" width="9" height="109" fill="#ff0000"/><rect x="1141" y="319" width="1" height="47" fill="#000"/><rect x="1136" y="333" width="11" height="32" fill="#000"/><rect x="1137" y="334" width="9" height="30" fill="#ff0000"/><rect x="1157" y="326" width="1" height="16" fill="#000"/><rect x="1152" y="333" width="11" height="6" fill="#000"/><rect x="1153" y="334" width="9" height="4" fill="#00ff00"/><rect x="1173" y="298" width="1" height="49" fill="#000"/><rect x="1168" y="314" width="11" height="2" fill="#000"/><rect x="1189" y="276" width="1" height="57" fill="#000"/><rect x="1184" y="298" width="11" height="18" fill="#000"/><rect x="1185" y="299" width="9" height="16" fill="#ff0000"/><rect x="1205" y="267" width="1" height="73" fill="#000"/><rect x="1200" y="297" width="11" height="19" fill="#000"/><rect x="1201" y="298" width="9" height="17" fill="#00ff00"/><rect x="1221" y="281" width="1" height="162" fill="#000"/><rect x="1216" y="315" width="11" height="115" fill="#000"/><rect x="1217" y="316" width="9" height="113" fill="#00ff00"/><rect x="1237" y="378" width="1" height="62" fill="#000"/><rect x="1232" y="391" width="11" height="39" fill="#000"/><rect x="1233" y="392" width="9" height="37" fill="#ff0000"/><rect x="1253" y="380" width="1" height="20" fill="#000"/><rect x="1248" y="385" width="11" height="7" fill="#000"/><rect x="1249" y="386" width="9" height="5" fill="#ff0000"/><rect x="5" y="279" width="1608" height="2" fill="#ff0000"/><rect x="4" y="277" width="6" height="6" fill="#ff0000"/><rect x="6" y="279" width="2" height="2" fill="#fff"/><rect x="1606" y="277" width="6" height="6" fill="#ff0000"/><rect x="1608" y="279" width="2" height="2" fill="#fff"/><rect x="5" y="324" width="1608" height="2" fill="#ff0000"/><rect x="4" y="322" width="6" height="6" fill="#ff0000"/><rect x="6" y="324" width="2" height="2" fill="#fff"/><rect x="1606" y="322" width="6" height="6" fill="#ff0000"/><rect x="1608" y="324" width="2" height="2" fill="#fff"/><rect x="5" y="366" width="1608" height="2" fill="#ff8c00"/><rect x="4" y="364" width="6" height="6" fill="#ff8c00"/><rect x="6" y="366" width="2" height="2" fill="#fff"/><rect x="1606" y="364" width="6" height="6" fill="#ff8c00"/><rect x="1608" y="366" width="2" height="2" fill="#fff"/><rect x="5" y="429" width="1608" height="2" fill="#0000ff"/><rect x="4" y="427" width="6" height="6" fill="#0000ff"/><rect x="6" y="429" width="2" height="2" fill="#fff"/><rect x="1606" y="427" width="6" height="6" fill="#0000ff"/><rect x="1608" y="429" width="2" height="2" fill="#fff"/><rect x="5" y="469" width="1608" height="2" fill="#0000ff"/><rect x="4" y="467" width="6" height="6" fill="#0000ff"/><rect x="6" y="469" width="2" height="2" fill="#fff"/><rect x="1606" y="467" width="6" height="6" fill="#0000ff"/><rect x="1608" y="469" width="2" height="2" fill="#fff"/></g><g shape-rendering="crispEdges"><rect x="4" y="277" width="6" height="6" fill="#ff0000"/><rect x="6" y="279" width="2" height="2" fill="#fff"/><rect x="1606" y="277" width="6" height="6" fill="#ff0000"/><rect x="1608" y="279" width="2" height="2" fill="#fff"/><rect x="1612" y="279" width="1" height="2" fill="#ff0000"/><rect x="4" y="322" width="6" height="6" fill="#ff0000"/><rect x="6" y="324" width="2" height="2" fill="#fff"/><rect x="1606" y="322" width="6" height="6" fill="#ff0000"/><rect x="1608" y="324" width="2" height="2" fill="#fff"/><rect x="1612" y="324" width="1" height="2" fill="#ff0000"/><rect x="4" y="364" width="6" height="6" fill="#ff8c00"/><rect x="6" y="366" width="2" height="2" fill="#fff"/><rect x="1606" y="364" width="6" height="6" fill="#ff8c00"/><rect x="1608" y="366" width="2" height="2" fill="#fff"/><rect x="1612" y="366" width="1" height="2" fill="#ff8c00"/><rect x="4" y="427" width="6" height="6" fill="#0000ff"/><rect x="6" y="429" width="2" height="2" fill="#fff"/><rect x="1606" y="427" width="6" height="6" fill="#0000ff"/><rect x="1608" y="429" width="2" height="2" fill="#fff"/><rect x="1612" y="429" width="1" height="2" fill="#0000ff"/><rect x="4" y="467" width="6" height="6" fill="#0000ff"/><rect x="6" y="469" width="2" height="2" fill="#fff"/><rect x="1606" y="467" width="6" height="6" fill="#0000ff"/><rect x="1608" y="469" width="2" height="2" fill="#fff"/><rect x="1612" y="469" width="1" height="2" fill="#0000ff"/><rect x="1614" y="274" width="36" height="11" fill="#ff0000"/><text x="1618" y="283" font-size="10.2" fill="#fff" textLength="27.5" lengthAdjust="spacingAndGlyphs">92.768</text><rect x="1614" y="319" width="36" height="11" fill="#ff0000"/><text x="1618" y="328" font-size="10.2" fill="#fff" textLength="27.5" lengthAdjust="spacingAndGlyphs">91.945</text><rect x="1614" y="361" width="36" height="11" fill="#ff8c00"/><text x="1618" y="370" font-size="10.2" fill="#fff" textLength="27.5" lengthAdjust="spacingAndGlyphs">91.177</text><rect x="1614" y="380" width="36" height="11" fill="#000"/><text x="1618" y="389" font-size="10.2" fill="#fff" textLength="27.5" lengthAdjust="spacingAndGlyphs">90.844</text><rect x="1614" y="424" width="36" height="11" fill="#0000ff"/><text x="1618" y="433" font-size="10.2" fill="#fff" textLength="27.5" lengthAdjust="spacingAndGlyphs">90.024</text><rect x="1614" y="464" width="36" height="11" fill="#0000ff"/><text x="1618" y="473" font-size="10.2" fill="#fff" textLength="27.5" lengthAdjust="spacingAndGlyphs">89.293</text></g><g fill="#4f9d2a" stroke="none"><line x1="1229" y1="273" x2="1297" y2="358" stroke="#4f9d2a" stroke-width="3"/><polygon points="1306,369 1288.5,361 1302.5,350"/></g><g shape-rendering="crispEdges"><rect x="1285" y="24" width="9" height="1" fill="#000"/><rect x="1286" y="25" width="7" height="1" fill="#000"/><rect x="1287" y="26" width="5" height="1" fill="#000"/><rect x="1288" y="27" width="3" height="1" fill="#000"/><rect x="1289" y="28" width="1" height="1" fill="#000"/></g><polygon points="8,30 15,30 11.5,34" fill="#000"/><text x="20.5" y="35" font-size="10.2" fill="#000" textLength="42.3" lengthAdjust="spacingAndGlyphs">UKOil-,H4</text><text x="69.5" y="35" font-size="10.2" fill="#000" textLength="120.2" lengthAdjust="spacingAndGlyphs">90.742 90.936 90.589 90.844</text><g clip-path="url(#cd)" shape-rendering="crispEdges"><rect x="4" y="630" width="3" height="62" fill="#00ff00"/><rect x="20" y="630" width="3" height="66" fill="#00ff00"/><rect x="36" y="630" width="3" height="63" fill="#00ff00"/><rect x="52" y="630" width="3" height="60" fill="#00ff00"/><rect x="68" y="630" width="3" height="58" fill="#00ff00"/><rect x="84" y="630" width="3" height="56" fill="#00ff00"/><rect x="100" y="630" width="3" height="55" fill="#00ff00"/><rect x="116" y="630" width="3" height="54" fill="#00ff00"/><rect x="132" y="630" width="3" height="48" fill="#00ff00"/><rect x="148" y="630" width="3" height="42" fill="#00ff00"/><rect x="164" y="630" width="3" height="33" fill="#00ff00"/><rect x="180" y="630" width="3" height="29" fill="#00ff00"/><rect x="196" y="630" width="3" height="25" fill="#00ff00"/><rect x="212" y="630" width="3" height="23" fill="#00ff00"/><rect x="228" y="630" width="3" height="19" fill="#00ff00"/><rect x="244" y="630" width="3" height="23" fill="#00ff00"/><rect x="260" y="630" width="3" height="24" fill="#00ff00"/><rect x="276" y="630" width="3" height="27" fill="#00ff00"/><rect x="292" y="630" width="3" height="29" fill="#00ff00"/><rect x="308" y="630" width="3" height="34" fill="#00ff00"/><rect x="324" y="630" width="3" height="36" fill="#00ff00"/><rect x="340" y="630" width="3" height="36" fill="#00ff00"/><rect x="356" y="630" width="3" height="44" fill="#00ff00"/><rect x="372" y="630" width="3" height="54" fill="#00ff00"/><rect x="388" y="630" width="3" height="61" fill="#00ff00"/><rect x="404" y="630" width="3" height="63" fill="#00ff00"/><rect x="420" y="630" width="3" height="65" fill="#00ff00"/><rect x="436" y="630" width="3" height="66" fill="#00ff00"/><rect x="452" y="630" width="3" height="64" fill="#00ff00"/><rect x="468" y="630" width="3" height="63" fill="#00ff00"/><rect x="484" y="630" width="3" height="62" fill="#00ff00"/><rect x="500" y="630" width="3" height="58" fill="#00ff00"/><rect x="516" y="630" width="3" height="52" fill="#00ff00"/><rect x="532" y="630" width="3" height="45" fill="#00ff00"/><rect x="548" y="630" width="3" height="37" fill="#00ff00"/><rect x="564" y="630" width="3" height="28" fill="#00ff00"/><rect x="580" y="630" width="3" height="21" fill="#00ff00"/><rect x="596" y="630" width="3" height="18" fill="#00ff00"/><rect x="612" y="630" width="3" height="11" fill="#00ff00"/><rect x="628" y="630" width="3" height="4" fill="#00ff00"/><rect x="644" y="624" width="3" height="6" fill="#00ff00"/><rect x="660" y="619" width="3" height="11" fill="#00ff00"/><rect x="676" y="615" width="3" height="15" fill="#00ff00"/><rect x="692" y="613" width="3" height="17" fill="#00ff00"/><rect x="708" y="609" width="3" height="21" fill="#00ff00"/><rect x="724" y="605" width="3" height="25" fill="#00ff00"/><rect x="740" y="610" width="3" height="20" fill="#00ff00"/><rect x="756" y="611" width="3" height="19" fill="#00ff00"/><rect x="772" y="612" width="3" height="18" fill="#00ff00"/><rect x="788" y="615" width="3" height="15" fill="#00ff00"/><rect x="804" y="617" width="3" height="13" fill="#00ff00"/><rect x="820" y="620" width="3" height="10" fill="#00ff00"/><rect x="836" y="615" width="3" height="15" fill="#00ff00"/><rect x="852" y="614" width="3" height="16" fill="#00ff00"/><rect x="868" y="612" width="3" height="18" fill="#00ff00"/><rect x="884" y="613" width="3" height="17" fill="#00ff00"/><rect x="900" y="612" width="3" height="18" fill="#00ff00"/><rect x="916" y="615" width="3" height="15" fill="#00ff00"/><rect x="932" y="625" width="3" height="5" fill="#00ff00"/><rect x="948" y="630" width="3" height="3" fill="#00ff00"/><rect x="964" y="630" width="3" height="8" fill="#00ff00"/><rect x="980" y="630" width="3" height="11" fill="#00ff00"/><rect x="996" y="630" width="3" height="14" fill="#00ff00"/><rect x="1012" y="630" width="3" height="14" fill="#00ff00"/><rect x="1028" y="630" width="3" height="12" fill="#00ff00"/><rect x="1044" y="630" width="3" height="13" fill="#00ff00"/><rect x="1060" y="630" width="3" height="13" fill="#00ff00"/><rect x="1076" y="630" width="3" height="13" fill="#00ff00"/><rect x="1092" y="630" width="3" height="15" fill="#00ff00"/><rect x="1108" y="630" width="3" height="21" fill="#00ff00"/><rect x="1124" y="630" width="3" height="20" fill="#00ff00"/><rect x="1140" y="630" width="3" height="17" fill="#00ff00"/><rect x="1156" y="630" width="3" height="13" fill="#00ff00"/><rect x="1172" y="630" width="3" height="12" fill="#00ff00"/><rect x="1188" y="630" width="3" height="9" fill="#00ff00"/><rect x="1204" y="630" width="3" height="7" fill="#00ff00"/><rect x="1220" y="630" width="3" height="11" fill="#00ff00"/><rect x="1236" y="630" width="3" height="12" fill="#00ff00"/><rect x="1252" y="630" width="3" height="13" fill="#00ff00"/></g><g clip-path="url(#cd)"><polyline points="4,670.8 5,671.8 21,676.4 37,680.7 53,683.3 69,685.7 85,686.7 101,687.7 117,687.7 133,687.1 149,685.7 165,681.1 181,676.8 197,672.4 213,668.4 229,664.8 245,661.8 261,658.8 277,655.8 293,654.8 309,655.4 325,656.2 341,656.8 357,658.8 373,663.4 389,667.8 405,672.4 421,676.4 437,680.3 453,683.3 469,685.9 485,689.1 501,690.7 517,690.7 533,688.7 549,685.7 565,681.1 581,675.8 597,670.8 613,664.8 629,658.8 645,652.8 661,646.8 677,639.9 693,633.9 709,628.9 725,623.9 741,619.5 757,615.5 773,613.3 789,612.5 805,612.0 821,612.3 837,612.9 853,613.5 869,613.9 885,614.9 901,614.9 917,615.3 933,616.5 949,618.5 965,620.2 981,621.9 997,625.9 1013,629.3 1029,631.9 1045,634.9 1061,637.9 1077,639.9 1093,642.3 1109,643.5 1125,643.5 1141,643.5 1157,643.5 1173,643.5 1189,643.5 1205,643.3 1221,642.9 1237,642.9 1253,642.9" fill="none" stroke="#ff0000" stroke-width="2" shape-rendering="crispEdges"/></g><text x="9" y="612" font-size="10.2" fill="#000" textLength="134" lengthAdjust="spacingAndGlyphs">MACD(12,26,9) -0.3580 -0.3578</text><g shape-rendering="crispEdges"><rect x="1613" y="601" width="2" height="1" fill="#000"/><rect x="1613" y="630" width="2" height="1" fill="#000"/><rect x="1613" y="699" width="2" height="1" fill="#000"/></g><text x="1616.5" y="610" font-size="10.2" fill="#000" textLength="27.2" lengthAdjust="spacingAndGlyphs">0.8849</text><text x="1616.5" y="634" font-size="10.2" fill="#000" textLength="17.5" lengthAdjust="spacingAndGlyphs">0.00</text><text x="1616.5" y="697" font-size="10.2" fill="#000" textLength="30.2" lengthAdjust="spacingAndGlyphs">-2.1106</text><g clip-path="url(#cr)" shape-rendering="crispEdges"><line x1="6" y1="722.5" x2="1612" y2="722.5" stroke="#000" stroke-width="1" stroke-dasharray="3,3"/><line x1="6" y1="749.5" x2="1612" y2="749.5" stroke="#000" stroke-width="1" stroke-dasharray="3,3"/><line x1="6" y1="782.5" x2="1612" y2="782.5" stroke="#000" stroke-width="1" stroke-dasharray="3,3"/></g><g clip-path="url(#cr)"><polyline points="4,766.8 5,766.8 21,766.8 37,758.8 53,758.8 69,758.8 85,758.8 101,760.8 117,760.8 133,753.2 149,752.8 165,747.9 181,750.8 197,749.9 213,752.8 229,749.5 245,757.8 261,755.8 277,757.8 293,757.8 309,760.8 325,759.0 341,757.8 357,765.8 373,767.8 389,767.8 405,762.8 421,763.8 437,763.8 453,760.8 469,761.8 485,761.8 501,756.8 517,753.4 533,752.2 549,747.9 565,746.3 581,746.9 597,748.9 613,743.9 629,740.9 645,737.9 661,740.9 677,741.3 693,742.5 709,740.3 725,738.9 741,750.8 757,747.3 773,747.3 789,749.9 805,750.2 821,750.8 837,741.9 853,744.9 869,744.9 885,745.9 901,744.9 917,751.8 933,757.8 949,757.8 965,757.8 981,756.8 997,756.8 1013,752.2 1029,752.2 1045,753.8 1061,753.8 1077,752.8 1093,757.8 1109,761.8 1125,752.2 1141,750.2 1157,749.5 1173,747.9 1189,747.9 1205,748.9 1221,756.8 1237,753.8 1253,753.8" fill="none" stroke="#1e90ff" stroke-width="2" shape-rendering="crispEdges"/></g><text x="9" y="715" font-size="10.2" fill="#000" textLength="67.8" lengthAdjust="spacingAndGlyphs">RSI(14) 45.6683</text><g shape-rendering="crispEdges"><rect x="1613" y="703" width="2" height="1" fill="#000"/><rect x="1613" y="795" width="2" height="1" fill="#000"/></g><text x="1616" y="713" font-size="10.2" fill="#000" textLength="15" lengthAdjust="spacingAndGlyphs">100</text><text x="1615" y="726" font-size="10.2" fill="#000" textLength="10" lengthAdjust="spacingAndGlyphs">80</text><text x="1615" y="753" font-size="10.2" fill="#000" textLength="10" lengthAdjust="spacingAndGlyphs">50</text><text x="1615" y="786" font-size="10.2" fill="#000" textLength="10" lengthAdjust="spacingAndGlyphs">15</text><text x="1616" y="793" font-size="10.2" fill="#000" textLength="5" lengthAdjust="spacingAndGlyphs">0</text><g shape-rendering="crispEdges"><rect x="5" y="797" width="1" height="3" fill="#000"/><rect x="69" y="797" width="1" height="3" fill="#000"/><rect x="133" y="797" width="1" height="3" fill="#000"/><rect x="197" y="797" width="1" height="3" fill="#000"/><rect x="261" y="797" width="1" height="3" fill="#000"/><rect x="325" y="797" width="1" height="3" fill="#000"/><rect x="389" y="797" width="1" height="3" fill="#000"/><rect x="453" y="797" width="1" height="3" fill="#000"/><rect x="517" y="797" width="1" height="3" fill="#000"/><rect x="581" y="797" width="1" height="3" fill="#000"/><rect x="645" y="797" width="1" height="3" fill="#000"/><rect x="709" y="797" width="1" height="3" fill="#000"/><rect x="773" y="797" width="1" height="3" fill="#000"/><rect x="837" y="797" width="1" height="3" fill="#000"/><rect x="901" y="797" width="1" height="3" fill="#000"/><rect x="965" y="797" width="1" height="3" fill="#000"/><rect x="1029" y="797" width="1" height="3" fill="#000"/><rect x="1093" y="797" width="1" height="3" fill="#000"/><rect x="1157" y="797" width="1" height="3" fill="#000"/><rect x="1221" y="797" width="1" height="3" fill="#000"/></g><text x="4.5" y="809" font-size="10.2" fill="#000" textLength="46.0" lengthAdjust="spacingAndGlyphs">1 Sep 2022</text><text x="68.5" y="809" font-size="10.2" fill="#000" textLength="48.5" lengthAdjust="spacingAndGlyphs">2 Sep 08:00</text><text x="132.5" y="809" font-size="10.2" fill="#000" textLength="48.5" lengthAdjust="spacingAndGlyphs">5 Sep 00:00</text><text x="196.5" y="809" font-size="10.2" fill="#000" textLength="48.5" lengthAdjust="spacingAndGlyphs">5 Sep 16:00</text><text x="260.5" y="809" font-size="10.2" fill="#000" textLength="48.5" lengthAdjust="spacingAndGlyphs">6 Sep 12:00</text><text x="324.5" y="809" font-size="10.2" fill="#000" textLength="48.5" lengthAdjust="spacingAndGlyphs">7 Sep 04:00</text><text x="388.5" y="809" font-size="10.2" fill="#000" textLength="48.5" lengthAdjust="spacingAndGlyphs">7 Sep 20:00</text><text x="452.5" y="809" font-size="10.2" fill="#000" textLength="48.5" lengthAdjust="spacingAndGlyphs">8 Sep 12:00</text><text x="516.5" y="809" font-size="10.2" fill="#000" textLength="48.5" lengthAdjust="spacingAndGlyphs">9 Sep 04:00</text><text x="580.5" y="809" font-size="10.2" fill="#000" textLength="48.5" lengthAdjust="spacingAndGlyphs">9 Sep 20:00</text><text x="644.5" y="809" font-size="10.2" fill="#000" textLength="53.5" lengthAdjust="spacingAndGlyphs">12 Sep 12:00</text><text x="708.5" y="809" font-size="10.2" fill="#000" textLength="53.5" lengthAdjust="spacingAndGlyphs">13 Sep 04:00</text><text x="772.5" y="809" font-size="10.2" fill="#000" textLength="53.5" lengthAdjust="spacingAndGlyphs">13 Sep 20:00</text><text x="836.5" y="809" font-size="10.2" fill="#000" textLength="53.5" lengthAdjust="spacingAndGlyphs">14 Sep 12:00</text><text x="900.5" y="809" font-size="10.2" fill="#000" textLength="53.5" lengthAdjust="spacingAndGlyphs">15 Sep 04:00</text><text x="964.5" y="809" font-size="10.2" fill="#000" textLength="53.5" lengthAdjust="spacingAndGlyphs">15 Sep 20:00</text><text x="1028.5" y="809" font-size="10.2" fill="#000" textLength="53.5" lengthAdjust="spacingAndGlyphs">16 Sep 12:00</text><text x="1092.5" y="809" font-size="10.2" fill="#000" textLength="53.5" lengthAdjust="spacingAndGlyphs">19 Sep 04:00</text><text x="1156.5" y="809" font-size="10.2" fill="#000" textLength="53.5" lengthAdjust="spacingAndGlyphs">19 Sep 20:00</text><text x="1220.5" y="809" font-size="10.2" fill="#000" textLength="53.5" lengthAdjust="spacingAndGlyphs">20 Sep 12:00</text><text x="893.5" y="11" font-size="10.2" fill="#333" textLength="12.7" lengthAdjust="spacingAndGlyphs">M1</text><text x="921.6" y="11" font-size="10.2" fill="#333" textLength="12.7" lengthAdjust="spacingAndGlyphs">M5</text><text x="947.5" y="11" font-size="10.2" fill="#333" textLength="17.7" lengthAdjust="spacingAndGlyphs">M15</text><text x="975.6" y="11" font-size="10.2" fill="#333" textLength="17.7" lengthAdjust="spacingAndGlyphs">M30</text><text x="1006.3" y="11" font-size="10.2" fill="#333" textLength="11.8" lengthAdjust="spacingAndGlyphs">H1</text><text x="1033.5" y="11" font-size="10.2" fill="#333" textLength="12.3" lengthAdjust="spacingAndGlyphs">H4</text><text x="1062.6" y="11" font-size="10.2" fill="#333" textLength="11.7" lengthAdjust="spacingAndGlyphs">D1</text><text x="1090.2" y="11" font-size="10.2" fill="#333" textLength="14.1" lengthAdjust="spacingAndGlyphs">W1</text><text x="1116.5" y="11" font-size="10.2" fill="#333" textLength="15.0" lengthAdjust="spacingAndGlyphs">MN</text></svg></body></html>
